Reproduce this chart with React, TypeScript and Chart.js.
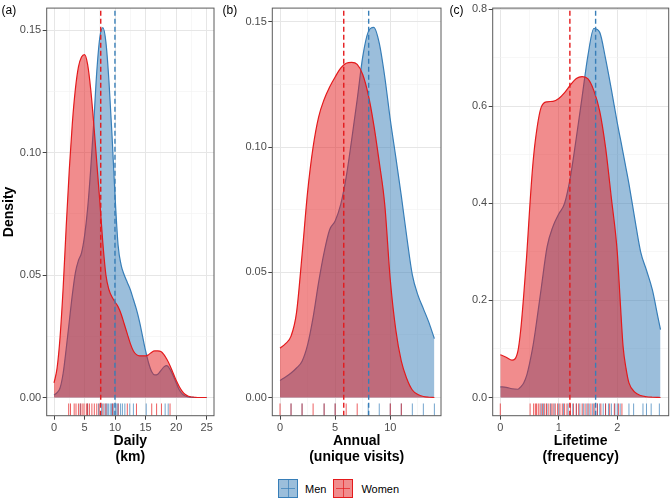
import React, { useEffect, useRef } from "react";
import { Chart, registerables } from "chart.js";
Chart.register(...registerables);

// ---------- data ----------
const MEN_LABEL = "Men";
const WOMEN_LABEL = "Women";

// (a) Daily (km)
const dailyX = [0,0.5,1,1.5,2,2.5,3,3.5,4,4.5,5,5.5,6,6.5,7,7.5,8,8.5,9,9.5,10,10.5,11,11.5,12,12.5,13,13.5,14,14.5,15,15.5,16,16.5,17,17.5,18,18.5,19,19.5,20,20.5,21,21.5,22,22.5,23,23.5,24,24.5,25];
const dailyMen = [0.001,0.002,0.004,0.01,0.02,0.031,0.042,0.051,0.056,0.059,0.066,0.077,0.093,0.112,0.133,0.147,0.151,0.145,0.129,0.107,0.082,0.062,0.054,0.05,0.047,0.044,0.04,0.036,0.031,0.025,0.019,0.014,0.0105,0.0092,0.0095,0.011,0.0125,0.013,0.0115,0.009,0.006,0.0032,0.0015,0.0006,0.0002,0.0001,0,0,0,0,0];
const dailyWomen = [0.006,0.012,0.025,0.045,0.07,0.093,0.112,0.126,0.135,0.139,0.14,0.136,0.126,0.112,0.096,0.08,0.063,0.05,0.044,0.041,0.039,0.037,0.034,0.03,0.026,0.022,0.019,0.0175,0.017,0.017,0.017,0.0175,0.0185,0.019,0.019,0.0188,0.0175,0.0155,0.013,0.01,0.007,0.0045,0.0025,0.0012,0.0005,0.0002,0.0001,0,0,0,0];
const dailyMenRug = [4.3,5.5,7.3,7.8,8.2,8.5,8.7,8.9,9.2,9.4,9.6,9.8,10.1,10.3,10.5,10.9,11.2,11.6,12.4,13.0,15.1,18.2,18.7];
const dailyWomenRug = [2.4,2.7,3.3,3.6,4.0,4.3,4.6,4.9,5.3,5.5,5.8,6.2,6.6,7.0,7.4,8.0,8.5,9.6,10.5,12.0,13.5,16.0,16.8,17.6,19.0];
const dailyMeans = { men: 9.98, women: 7.65 };
const dailyXTicks = [0,5,10,15,20,25];
const dailyXMinor = [2.5,7.5,12.5,17.5,22.5];
const dailyYTicks = [0,0.05,0.1,0.15];
const dailyYMinor = [0.025,0.075,0.125];

// (b) Annual (unique visits)
const annualX = [0,0.5,1,1.5,2,2.5,3,3.5,4,4.5,5,5.5,6,6.5,7,7.5,8,8.5,9,9.5,10,10.5,11,11.5,12,12.5,13,13.5,14];
const annualMen = [0.0068,0.0082,0.0098,0.0118,0.0145,0.021,0.032,0.046,0.058,0.067,0.0705,0.077,0.088,0.103,0.119,0.136,0.146,0.1478,0.1415,0.128,0.111,0.096,0.0805,0.064,0.049,0.041,0.0355,0.03,0.0235];
const annualWomen = [0.0197,0.0215,0.0245,0.034,0.057,0.082,0.1,0.112,0.119,0.124,0.128,0.1315,0.1335,0.1338,0.133,0.129,0.121,0.109,0.094,0.077,0.047,0.027,0.0145,0.0075,0.003,0.0012,0.0004,0.0001,0];
const annualMenRug = [1,2,4,5,8,9,10,11,12,13,14];
const annualWomenRug = [0,1,2,3,4,5,6,7,10,11];
const annualMeans = { men: 8.04, women: 5.78 };
const annualXTicks = [0,5,10];
const annualXMinor = [2.5,7.5,12.5];
const annualYTicks = [0,0.05,0.1,0.15];
const annualYMinor = [0.025,0.075,0.125];

// (c) Lifetime (frequency)
const lifeX = [0,0.1,0.2,0.3,0.35,0.4,0.45,0.5,0.55,0.6,0.7,0.8,0.9,1.0,1.1,1.2,1.3,1.4,1.5,1.6,1.7,1.8,1.9,2.0,2.05,2.1,2.15,2.2,2.3,2.4,2.5,2.6,2.7,2.74];
const lifeMen = [0.022,0.021,0.018,0.017,0.022,0.03,0.045,0.07,0.1,0.138,0.225,0.31,0.352,0.378,0.4,0.455,0.535,0.62,0.705,0.76,0.752,0.698,0.634,0.566,0.535,0.504,0.472,0.44,0.368,0.3,0.262,0.222,0.163,0.14];
const lifeWomen = [0.088,0.083,0.077,0.095,0.14,0.21,0.29,0.385,0.47,0.53,0.598,0.609,0.61,0.616,0.628,0.644,0.657,0.661,0.656,0.632,0.59,0.515,0.41,0.3,0.2,0.105,0.06,0.03,0.011,0.004,0.0015,0.0005,0.0001,0];
const lifeMenRug = [0.7,0.74,0.8,0.86,0.92,1.0,1.08,1.16,1.24,1.3,1.36,1.42,1.48,1.52,1.58,1.62,1.66,1.7,1.76,1.8,1.85,1.9,1.96,2.0,2.05,2.2,2.28,2.44,2.5,2.58,2.72];
const lifeWomenRug = [0,0.51,0.57,0.6,0.62,0.65,0.68,0.72,0.76,0.79,0.83,0.87,0.9,0.94,0.98,1.02,1.06,1.1,1.14,1.2,1.25,1.3,1.34,1.4,1.45,1.5,1.55,1.6,1.66,1.72,1.8,1.87,1.95,2.02,2.08];
const lifeMeans = { men: 1.63, women: 1.19 };
const lifeXTicks = [0,1,2];
const lifeXMinor = [0.5,1.5,2.5];
const lifeYTicks = [0,0.2,0.4,0.6,0.8];
const lifeYMinor = [0.1,0.3,0.5,0.7];

// ---------- style ----------
const FONT = "'Liberation Sans', Arial, Helvetica, sans-serif";
const MEN_COLOR = "#377EB8";
const WOMEN_COLOR = "#E41A1C";
const MEN_FILL = "rgba(55,126,184,0.5)";
const WOMEN_FILL = "rgba(228,26,28,0.5)";
const MEN_RUG = "rgba(55,126,184,0.7)";
const WOMEN_RUG = "rgba(228,26,28,0.7)";
const CANVAS_H = 466;

type Spec = {
  label: string;
  left: number; width: number; yWidth: number; padRight: number;
  xs: number[]; men: number[]; women: number[];
  menRug: number[]; womenRug: number[];
  means: { men: number; women: number };
  xMin: number; xMax: number; yMin: number; yMax: number;
  xTicks: number[]; xMinor: number[]; yTicks: number[]; yMinor: number[];
  yDec: number; xTitle: string[]; yTitle?: string;
};

const specs: Spec[] = [
  {
    label: "(a)", left: 0, width: 218, yWidth: 46.7, padRight: 4,
    xs: dailyX, men: dailyMen, women: dailyWomen, menRug: dailyMenRug, womenRug: dailyWomenRug,
    means: dailyMeans, xMin: -1.2, xMax: 26.2, yMin: -0.00743, yMax: 0.159,
    xTicks: dailyXTicks, xMinor: dailyXMinor, yTicks: dailyYTicks, yMinor: dailyYMinor,
    yDec: 2, xTitle: ["Daily", "(km)"], yTitle: "Density",
  },
  {
    label: "(b)", left: 218, width: 226, yWidth: 54.3, padRight: 3,
    xs: annualX, men: annualMen, women: annualWomen, menRug: annualMenRug, womenRug: annualWomenRug,
    means: annualMeans, xMin: -0.7, xMax: 14.6, yMin: -0.00726, yMax: 0.1555,
    xTicks: annualXTicks, xMinor: annualXMinor, yTicks: annualYTicks, yMinor: annualYMinor,
    yDec: 2, xTitle: ["Annual", "(unique visits)"],
  },
  {
    label: "(c)", left: 444, width: 226, yWidth: 48.7, padRight: 1.3,
    xs: lifeX, men: lifeMen, women: lifeWomen, menRug: lifeMenRug, womenRug: lifeWomenRug,
    means: lifeMeans, xMin: -0.13, xMax: 2.88, yMin: -0.0375, yMax: 0.802,
    xTicks: lifeXTicks, xMinor: lifeXMinor, yTicks: lifeYTicks, yMinor: lifeYMinor,
    yDec: 1, xTitle: ["Lifetime", "(frequency)"],
  },
];

const borderPlugin = {
  id: "panelBorder",
  afterDatasetsDraw(chart: any) {
    const { ctx, chartArea } = chart;
    ctx.save();
    ctx.strokeStyle = "#5a5a5a";
    ctx.lineWidth = 1;
    ctx.strokeRect(chartArea.left, chartArea.top, chartArea.right - chartArea.left, chartArea.bottom - chartArea.top);
    ctx.restore();
  },
};

function rugData(vals: number[], y0: number, y1: number) {
  const out: any[] = [];
  vals.forEach((v) => {
    out.push({ x: v, y: y0 }, { x: v, y: y1 }, { x: v, y: null });
  });
  return out;
}

function buildConfig(s: Spec): any {
  const rugTop = s.yMin + 0.03 * (s.yMax - s.yMin);
  const isMinor = (arr: number[], v: number) => arr.some((m) => Math.abs(m - v) < 1e-9);
  const gridCfg = (minor: number[]) => ({
    color: (c: any) => (c.tick && isMinor(minor, c.tick.value) ? "#f2f2f2" : "#e6e6e6"),
    lineWidth: (c: any) => (c.tick && isMinor(minor, c.tick.value) ? 0.6 : 1),
    tickColor: (c: any) => (c.tick && isMinor(minor, c.tick.value) ? "rgba(0,0,0,0)" : "#444"),
    tickLength: 4,
    drawTicks: true,
  });
  return {
    type: "line",
    data: {
      datasets: [
        {
          label: MEN_LABEL,
          data: s.xs.map((x, i) => ({ x, y: s.men[i] })),
          borderColor: MEN_COLOR, backgroundColor: MEN_FILL, borderWidth: 1.2,
          fill: "origin", pointRadius: 0, cubicInterpolationMode: "monotone", order: 5,
        },
        {
          label: WOMEN_LABEL,
          data: s.xs.map((x, i) => ({ x, y: s.women[i] })),
          borderColor: WOMEN_COLOR, backgroundColor: WOMEN_FILL, borderWidth: 1.2,
          fill: "origin", pointRadius: 0, cubicInterpolationMode: "monotone", order: 4,
        },
        {
          label: "Men mean",
          data: [{ x: s.means.men, y: s.yMin }, { x: s.means.men, y: s.yMax }],
          borderColor: MEN_COLOR, borderWidth: 1.4, borderDash: [5, 3], fill: false, pointRadius: 0, order: 3,
        },
        {
          label: "Women mean",
          data: [{ x: s.means.women, y: s.yMin }, { x: s.means.women, y: s.yMax }],
          borderColor: WOMEN_COLOR, borderWidth: 1.4, borderDash: [5, 3], fill: false, pointRadius: 0, order: 2,
        },
        {
          label: "Men rug",
          data: rugData(s.menRug, s.yMin, rugTop),
          borderColor: MEN_RUG, borderWidth: 1, fill: false, pointRadius: 0, spanGaps: false, order: 1,
        },
        {
          label: "Women rug",
          data: rugData(s.womenRug, s.yMin, rugTop),
          borderColor: WOMEN_RUG, borderWidth: 1, fill: false, pointRadius: 0, spanGaps: false, order: 0,
        },
      ],
    },
    options: {
      animation: false,
      responsive: false,
      events: [],
      layout: { padding: { top: 3.5, right: s.padRight, left: 0, bottom: 0 } },
      plugins: { legend: { display: false }, tooltip: { enabled: false } },
      scales: {
        x: {
          type: "linear",
          min: s.xMin, max: s.xMax,
          afterBuildTicks: (sc: any) => {
            sc.ticks = [...s.xTicks, ...s.xMinor].sort((a, b) => a - b).map((v) => ({ value: v }));
          },
          afterFit: (sc: any) => { sc.height = CANVAS_H - 415.7; },
          grid: gridCfg(s.xMinor),
          border: { display: false },
          ticks: {
            autoSkip: false, maxRotation: 0, padding: 2, color: "#4d4d4d",
            font: { family: FONT, size: 11 },
            callback: (v: number) => (isMinor(s.xMinor, v) ? "" : String(v)),
          },
          title: {
            display: true, text: s.xTitle, color: "#000",
            font: { family: FONT, size: 14, weight: "bold", lineHeight: 1.12 },
            padding: { top: 2, bottom: 1 },
          },
        },
        y: {
          type: "linear",
          min: s.yMin, max: s.yMax,
          afterBuildTicks: (sc: any) => {
            sc.ticks = [...s.yTicks, ...s.yMinor].sort((a, b) => a - b).map((v) => ({ value: v }));
          },
          afterFit: (sc: any) => { sc.width = s.yWidth; },
          grid: gridCfg(s.yMinor),
          border: { display: false },
          ticks: {
            autoSkip: false, padding: 1.5, color: "#4d4d4d",
            font: { family: FONT, size: 11 },
            callback: (v: number) => (isMinor(s.yMinor, v) ? "" : Number(v).toFixed(s.yDec)),
          },
          title: {
            display: !!s.yTitle, text: s.yTitle || "", color: "#000",
            font: { family: FONT, size: 14, weight: "bold", lineHeight: 1.12 },
            padding: { top: 1, bottom: 0 },
          },
        },
      },
    },
    plugins: [borderPlugin],
  };
}

function Panel({ spec }: { spec: Spec }) {
  const ref = useRef<HTMLCanvasElement>(null);
  useEffect(() => {
    const chart = new Chart(ref.current as HTMLCanvasElement, buildConfig(spec));
    return () => chart.destroy();
  }, [spec]);
  return (
    <canvas
      ref={ref}
      width={spec.width}
      height={CANVAS_H}
      style={{ position: "absolute", left: spec.left, top: 0, width: spec.width, height: CANVAS_H }}
    />
  );
}

function Key({ fill, line, rug }: { fill: string; line: string; rug: string }) {
  return (
    <div style={{ position: "relative", width: 20, height: 19, boxSizing: "border-box", border: `1px solid ${line}`, background: fill }}>
      <div style={{ position: "absolute", left: 8.5, top: 0, width: 1, height: 17, background: rug }} />
      <div style={{ position: "absolute", left: 2, top: 8, width: 14, height: 1, background: rug }} />
    </div>
  );
}

export default function App() {
  return (
    <div style={{ position: "absolute", left: 0, top: 0, width: 670, height: 501, background: "#fff", overflow: "hidden", fontFamily: FONT }}>
      {specs.map((s) => (
        <Panel key={s.label} spec={s} />
      ))}
      {specs.map((s, i) => (
        <div key={"lab" + i} style={{ position: "absolute", left: [1.5, 222.5, 449.5][i], top: 2, fontSize: 12, color: "#000", lineHeight: "16px" }}>
          {s.label}
        </div>
      ))}
      <div style={{ position: "absolute", left: 278, top: 479, display: "flex", alignItems: "center", fontSize: 11, color: "#000" }}>
        <Key fill={MEN_FILL} line={MEN_COLOR} rug={MEN_RUG} />
        <span style={{ marginLeft: 7, marginRight: 7 }}>{MEN_LABEL}</span>
        <Key fill={WOMEN_FILL} line={WOMEN_COLOR} rug={WOMEN_RUG} />
        <span style={{ marginLeft: 8 }}>{WOMEN_LABEL}</span>
      </div>
    </div>
  );
}
